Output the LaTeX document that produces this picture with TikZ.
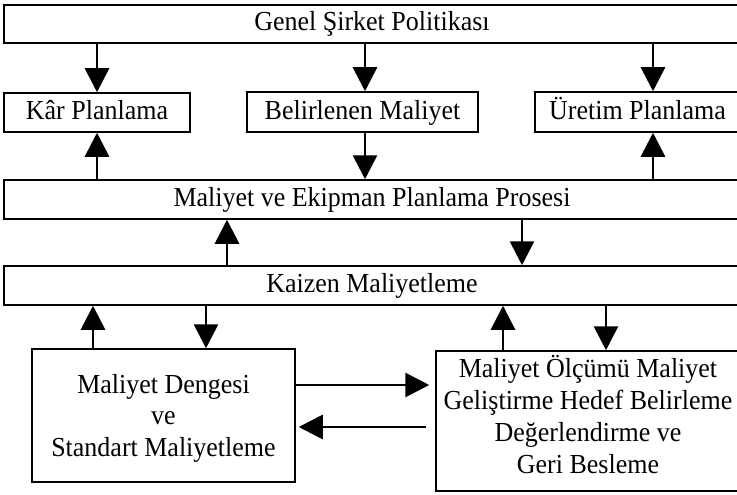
\documentclass[tikz,border=0pt]{standalone}
\usepackage{fontspec}
\setmainfont[FakeStretch=0.945]{Liberation Serif}
\usetikzlibrary{arrows.meta,calc}
\begin{document}
\begin{tikzpicture}[x=1pt,y=-1pt,
  box/.style={draw,line width=1.5pt,inner sep=0pt,align=center,font=\fontsize{27.5}{32}\selectfont,text height=20pt,text depth=6pt},
  tbox/.style={draw,line width=1.5pt,inner sep=0pt},
  arr/.style={line width=2.8pt,-{Triangle[length=24pt,width=24pt]}},
  txt/.style={inner sep=0pt,align=center,font=\fontsize{27.5}{32}\selectfont}]
\useasboundingbox (0,0) rectangle (737,495);
\node[box,minimum width=736pt,minimum height=38pt] (top) at (372,24) {Genel Şirket Politikası};
\node[box,minimum width=186pt,minimum height=39pt] (kar) at (97,112.5) {Kâr Planlama};
\node[box,minimum width=231pt,minimum height=40pt] (bel) at (362.5,112) {Belirlenen Maliyet};
\node[box,minimum width=205pt,minimum height=40pt] (ure) at (637.5,112) {Üretim Planlama};
\node[box,minimum width=736pt,minimum height=39pt] (mal) at (372,199.5) {Maliyet ve Ekipman Planlama Prosesi};
\node[box,minimum width=736pt,minimum height=39pt] (kai) at (372,285.5) {Kaizen Maliyetleme};
\node[tbox,minimum width=263pt,minimum height=133pt] (lb) at (163.5,415.5) {};
\node[txt,font=\fontsize{27.5}{31.5}\selectfont] (lbt) at (163.5,418) {Maliyet Dengesi\\ve\\Standart Maliyetleme};
\node[tbox,minimum width=304pt,minimum height=140pt] (rb) at (588,421) {};
\node[txt] (rbt) at (588,414) {Maliyet Ölçümü Maliyet\\Geliştirme Hedef Belirleme\\Değerlendirme ve\\Geri Besleme};
% x positions of connectors
\coordinate (c1) at (97,0);
\coordinate (c2) at (365,0);
\coordinate (c3) at (653,0);
\coordinate (c4) at (227,0);
\coordinate (c5) at (522,0);
\coordinate (c6) at (93,0);
\coordinate (c7) at (206,0);
\coordinate (c8) at (503,0);
\coordinate (c9) at (606,0);
% top to second row
\draw[arr] (c1 |- top.south) -- (c1 |- kar.north);
\draw[arr] (c2 |- top.south) -- (c2 |- bel.north);
\draw[arr] (c3 |- top.south) -- (c3 |- ure.north);
% second row and process bar
\draw[arr] (c1 |- mal.north) -- (c1 |- kar.south);
\draw[arr] (c2 |- bel.south) -- (c2 |- mal.north);
\draw[arr] (c3 |- mal.north) -- (c3 |- ure.south);
% process bar and kaizen
\draw[arr] (c4 |- kai.north) -- (c4 |- mal.south);
\draw[arr] (c5 |- mal.south) -- (c5 |- kai.north);
% kaizen and bottom boxes
\draw[arr] (c6 |- lb.north) -- (c6 |- kai.south);
\draw[arr] (c7 |- kai.south) -- (c7 |- lb.north);
\draw[arr] (c8 |- rb.north) -- (c8 |- kai.south);
\draw[arr] (c9 |- kai.south) -- (c9 |- rb.north);
% horizontal
\draw[arr,shorten >=6pt] ([yshift=30.5pt]lb.east) -- ([yshift=30.5pt]lb.east -| rb.west);
\draw[arr,shorten <=9pt,shorten >=3pt] ([yshift=-6pt]rb.west) -- ([yshift=-6pt]rb.west -| lb.east);
\end{tikzpicture}
\end{document}
